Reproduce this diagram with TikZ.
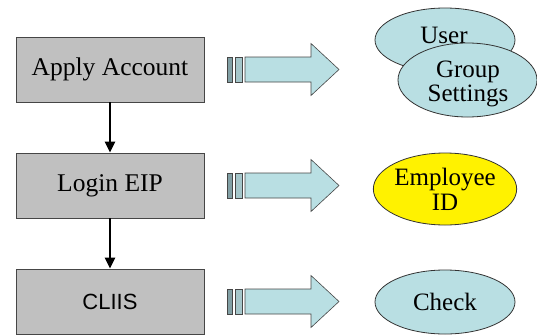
\documentclass[tikz,border=0pt]{standalone}
\usepackage{fontspec}
\setmainfont{Liberation Serif}
\newfontfamily\cliisfont{Liberation Sans}
\usetikzlibrary{shapes.geometric,arrows.meta}
\definecolor{boxgray}{RGB}{192,192,192}
\definecolor{paleteal}{RGB}{185,223,227}
\definecolor{midteal}{RGB}{165,198,202}
\definecolor{darkteal}{RGB}{130,160,165}
\definecolor{edgegray}{RGB}{70,70,70}
\begin{document}
\begin{tikzpicture}[x=1pt,y=-1pt]
        \tikzset{every node/.append style={inner sep=0pt}}
        \tikzset{stepbox/.style={draw=edgegray, line width=0.8pt, fill=boxgray, minimum width=188pt, minimum height=65pt, font=\fontsize{25.5}{28}\selectfont}}
        \tikzset{bubble/.style={ellipse, draw=black!80, line width=0.8pt, fill=paleteal, minimum width=140pt, minimum height=64pt, align=center, font=\fontsize{25}{25}\selectfont}}
        \tikzset{flow/.style={line width=2.2pt, -{Triangle[width=10pt,length=11pt]}}}
        \useasboundingbox (0,0) rectangle (537,335);
        % steps
        \node [stepbox] (acct) at (110,69.5) {Apply Account};
        \node [stepbox] (login) at (110,185.5) {Login EIP};
        \node [stepbox, font=\cliisfont\fontsize{22}{26}\selectfont] (cliis) at (110,301.5) {CLIIS};
        \draw [flow] (acct) -- (login);
        \draw [flow] (login) -- (cliis);
        % block arrows
        \foreach \yc in {69.5,185.5,301.5}{
            \filldraw [fill=darkteal, draw=edgegray, line width=0.6pt] (227,\yc-12.5) rectangle (232,\yc+12.5);
            \filldraw [fill=midteal, draw=edgegray, line width=0.6pt] (235,\yc-12.5) rectangle (242,\yc+12.5);
            \filldraw [fill=paleteal, draw=edgegray, line width=0.6pt] (245,\yc-12.5) -- (311,\yc-12.5) -- (311,\yc-26) -- (339,\yc) -- (311,\yc+26) -- (311,\yc+12.5) -- (245,\yc+12.5) -- cycle;
        }
        % results
        \node [bubble] (user) at (445,40) {};
        \node [font=\fontsize{25}{25}\selectfont] (usertext) at (444,35) {User};
        \node [bubble, minimum width=139pt, minimum height=74pt] (group) at (467.5,80) {};
        \node [align=center, font=\fontsize{25}{24}\selectfont] (grouptext) at (468,84) {Group\\Settings};
        \node [bubble, fill=yellow, minimum height=72pt] (empid) at (445,189) {Employee\\ID};
        \node [bubble] (check) at (445,302) {Check};
\end{tikzpicture}
\end{document}
